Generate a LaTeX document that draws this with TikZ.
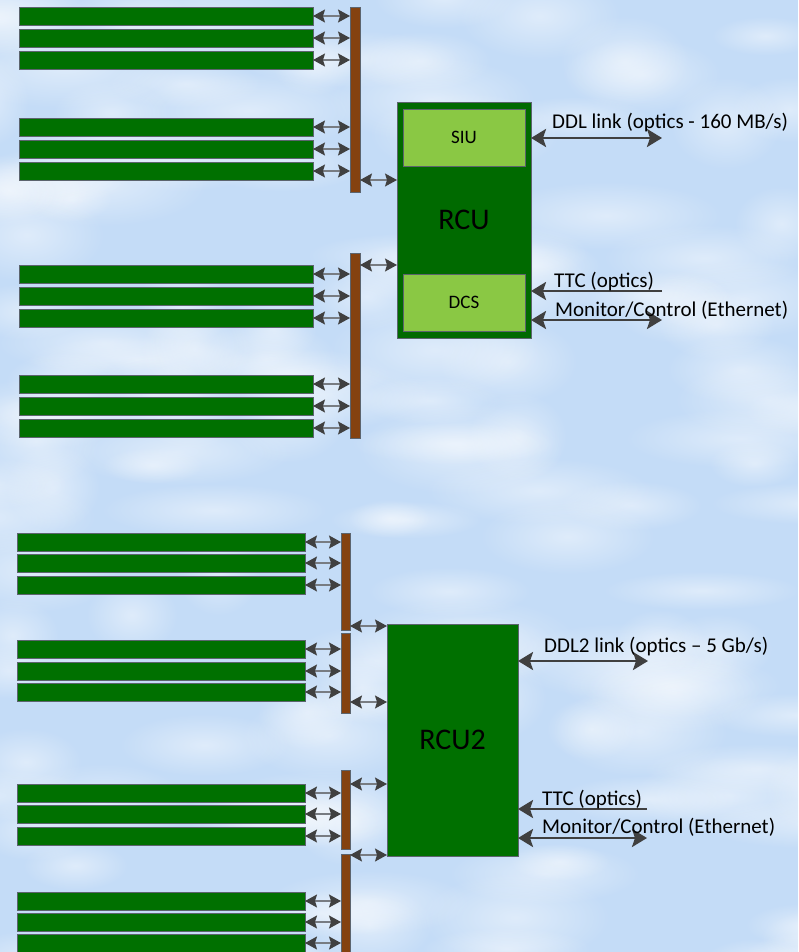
\documentclass[tikz,border=0pt]{standalone}
\usepackage{fontspec}
\setmainfont{Carlito}
\usetikzlibrary{arrows.meta,fadings}
\definecolor{bg}{RGB}{196,220,247}
\definecolor{bargreen}{RGB}{0,112,0}
\definecolor{rcugreen}{RGB}{0,106,0}
\definecolor{lightgreen}{RGB}{138,200,68}
\definecolor{busbrown}{RGB}{132,66,16}
\definecolor{arr}{RGB}{64,64,64}
\definecolor{arrline}{RGB}{120,124,130}
\definecolor{edgegray}{RGB}{92,100,110}
\tikzfading[name=cloudfade, inner color=transparent!0, outer color=transparent!100]
\begin{document}
\begin{tikzpicture}[x=1pt,y=-1pt,
  bar/.style={draw=edgegray, line width=0.8pt, fill=bargreen, minimum width=#1, minimum height=18pt, inner sep=0pt, outer sep=0pt},
  busbox/.style={draw=edgegray, line width=0.6pt, fill=busbrown, minimum width=#1, inner sep=0pt, outer sep=0pt},
  mainbox/.style={draw=edgegray, line width=0.8pt, fill=rcugreen, inner sep=0pt, outer sep=0pt},
  bigtext/.style={font=\fontsize{30}{32}\selectfont, inner sep=0pt},
  subbox/.style={draw=edgegray, line width=0.8pt, fill=lightgreen, minimum width=122pt, minimum height=57pt, inner sep=0pt, outer sep=0pt, font=\fontsize{19}{21}\selectfont},
  sarr/.style={draw=arrline, line width=1.2pt, {Stealth[length=12pt,width=13pt,inset=2pt,color=arr]}-{Stealth[length=12pt,width=13pt,inset=2pt,color=arr]}},
  bigarr/.style={draw=arr, line width=2.6pt, {Stealth[length=15pt,width=18pt,inset=3pt]}-{Stealth[length=15pt,width=18pt,inset=3pt]}},
  inarr/.style={draw=arr, line width=2.6pt, -{Stealth[length=15pt,width=18pt,inset=3pt]}},
  lbl/.style={anchor=base west, inner sep=0pt, font=\fontsize{21}{23}\selectfont, text=black}
]
\clip (0,0) rectangle (798,952);
% background sky
\fill[bg] (0,0) rectangle (798,952);
\pgfmathsetseed{42}
\foreach \k in {1,...,140}{
  \pgfmathsetmacro\cx{rnd*840-20}
  \pgfmathsetmacro\cy{rnd*990-20}
  \pgfmathsetmacro\rx{40+rnd*80}
  \pgfmathsetmacro\ry{18+rnd*30}
  \fill[white, opacity=0.45, path fading=cloudfade] (\cx,\cy) ellipse ({\rx} and {\ry});
}

% ===== top half =====
\node[busbox=10pt, minimum height=185pt] (tbus1) at (355,99.5) {};
\node[busbox=10pt, minimum height=185pt] (tbus2) at (355,345.5) {};
\node[mainbox, minimum width=134pt, minimum height=236pt] (rcu) at (464,220) {};
\node[bigtext] (rcutxt) at (464,220) {RCU};
\node[subbox] (siu) at (464,137.5) {SIU};
\node[subbox] (dcs) at (464,302.5) {DCS};

\foreach \yy [count=\i] in {16,38,60,127,149,171,274,296,318,384,406,428}{
  \pgfmathtruncatemacro\bb{\i<7 ? 1 : 2}
  \node[bar=294pt] (tbar\i) at (166,\yy) {};
  \draw[sarr] (tbar\i.east) -- (tbar\i.east -| tbus\bb.west);
}
\coordinate (ty1) at (0,180);
\coordinate (ty2) at (0,265);
\draw[sarr] (tbus1.east |- ty1) -- (rcu.west |- ty1);
\draw[sarr] (tbus2.east |- ty2) -- (rcu.west |- ty2);

\coordinate (ddlend) at (662,138);
\coordinate (ttcstart) at (662,291);
\coordinate (monend) at (662,320);
\draw[bigarr] (rcu.east |- ddlend) -- (ddlend);
\draw[inarr] (ttcstart) -- (rcu.east |- ttcstart);
\draw[bigarr] (rcu.east |- monend) -- (monend);
\node[lbl] (ddltxt) at (552,129) {DDL link (optics - 160 MB/s)};
\node[lbl] (ttctxt) at (554,287) {TTC (optics)};
\node[lbl] (montxt) at (555,316) {Monitor/Control (Ethernet)};

% ===== bottom half =====
\node[busbox=9pt, minimum height=97pt] (bbus1) at (345.5,581.5) {};
\node[busbox=9pt, minimum height=80pt] (bbus2) at (345.5,673) {};
\node[busbox=9pt, minimum height=79pt] (bbus3) at (345.5,809.5) {};
\node[busbox=9pt, minimum height=101pt] (bbus4) at (345.5,904.5) {};
\node[mainbox, fill=bargreen, minimum width=131pt, minimum height=232pt] (rcu2) at (452.5,740) {};
\node[bigtext] (rcu2txt) at (452.5,740) {RCU2};

\foreach \yy [count=\i] in {542,563,585,649,671,692,793,814,836,901,922,943}{
  \pgfmathtruncatemacro\bb{div(\i-1,3)+1}
  \node[bar=288pt] (bbar\i) at (161,\yy) {};
  \draw[sarr] (bbar\i.east) -- (bbar\i.east -| bbus\bb.west);
}
\coordinate (by1) at (0,626);
\coordinate (by2) at (0,702);
\coordinate (by3) at (0,784);
\coordinate (by4) at (0,855);
\draw[sarr] (bbus1.east |- by1) -- (rcu2.west |- by1);
\draw[sarr] (bbus2.east |- by2) -- (rcu2.west |- by2);
\draw[sarr] (bbus3.east |- by3) -- (rcu2.west |- by3);
\draw[sarr] (bbus4.east |- by4) -- (rcu2.west |- by4);

\coordinate (ddl2end) at (648,661);
\coordinate (ttc2start) at (647,809);
\coordinate (mon2end) at (647,838);
\draw[bigarr] (rcu2.east |- ddl2end) -- (ddl2end);
\draw[inarr] (ttc2start) -- (rcu2.east |- ttc2start);
\draw[bigarr] (rcu2.east |- mon2end) -- (mon2end);
\node[lbl] (ddl2txt) at (544,652) {DDL2 link (optics – 5 Gb/s)};
\node[lbl] (ttc2txt) at (542,805) {TTC (optics)};
\node[lbl] (mon2txt) at (542,833) {Monitor/Control (Ethernet)};
\end{tikzpicture}
\end{document}
